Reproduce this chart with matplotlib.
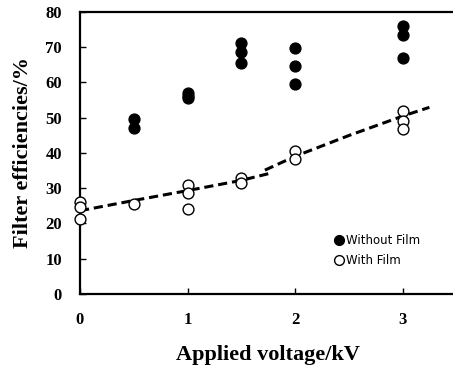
import matplotlib
matplotlib.use('Agg')
import matplotlib.pyplot as plt

# filled circles: without film
without_x = [0.5, 0.5, 1, 1, 1, 1.5, 1.5, 1.5, 2, 2, 2, 3, 3, 3]
without_y = [49.5, 47.0, 57.0, 56.2, 55.6, 71.2, 68.6, 65.4, 69.7, 64.6, 59.4, 76.0, 73.5, 66.8]

# open circles: with film
with_x = [0, 0, 0, 0.5, 1, 1, 1, 1.5, 1.5, 2, 2, 3, 3, 3]
with_y = [26.0, 24.6, 21.2, 25.6, 30.9, 28.7, 24.2, 33.0, 31.5, 40.5, 38.2, 52.0, 49.0, 46.7]

# dashed trend line, drawn as two pieces
trend1_x = [0, 0.5, 1, 1.5, 1.78]
trend1_y = [23.6, 26.5, 29.3, 32.2, 34.3]
trend2_x = [1.72, 2, 2.5, 3, 3.25]
trend2_y = [35.1, 39.0, 44.9, 50.4, 52.9]

xticks = [0, 1, 2, 3]
yticks = [0, 10, 20, 30, 40, 50, 60, 70, 80]

fig = plt.figure(figsize=(4.53, 3.74), dpi=100)
ax = fig.add_axes([0.1766, 0.2139, 0.8306, 0.7548])

ax.plot(trend1_x, trend1_y, color='black', linestyle=(0, (3, 1.6)), linewidth=2.2, zorder=2)
ax.plot(trend2_x, trend2_y, color='black', linestyle=(0, (3, 1.6)), linewidth=2.2, zorder=2)

ax.plot(without_x, without_y, 'o', color='black', markersize=7.8, label='Without Film',
        zorder=3, clip_on=False)
ax.plot(with_x, with_y, 'o', markerfacecolor='white', markeredgecolor='black',
        markeredgewidth=1.0, markersize=7.8, label='With Film', zorder=3, clip_on=False)

ax.set_xlim(0, 3.5)
ax.set_ylim(0, 80)
ax.set_xticks(xticks)
ax.set_yticks(yticks)
ax.tick_params(direction='in', length=4, width=1, pad=13)
for lab in ax.get_xticklabels() + ax.get_yticklabels():
  lab.set_fontfamily('Liberation Serif')
  lab.set_fontweight('bold')
  lab.set_fontsize(12)

ax.spines['right'].set_visible(False)
for s in ['left', 'bottom', 'top']:
  ax.spines[s].set_linewidth(1.6)

ax.set_xlabel('Applied voltage/kV', fontfamily='Liberation Serif', fontweight='bold', fontsize=16, labelpad=12)
ax.set_ylabel('Filter efficiencies/%', fontfamily='Liberation Serif', fontweight='bold', fontsize=16, labelpad=9)

ax.legend(loc='lower left', bbox_to_anchor=(0.66, 0.08), frameon=False,
          prop={'family': 'DejaVu Sans', 'size': 8.5}, handletextpad=0.1,
          handlelength=1.0, labelspacing=0.55, markerscale=0.9, borderaxespad=0)

fig.savefig('out.png', dpi=100)
